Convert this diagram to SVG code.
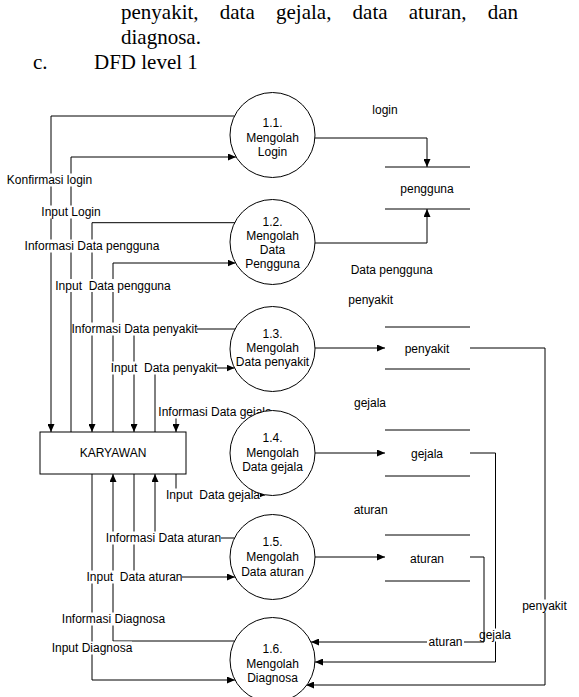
<svg xmlns="http://www.w3.org/2000/svg" width="579" height="697" viewBox="0 0 579 697">
<defs>
<marker id="ah" markerWidth="8" markerHeight="7" refX="8" refY="3.5" orient="auto" markerUnits="userSpaceOnUse">
<path d="M0,0 L8,3.5 L0,7 z" fill="#000"/>
</marker>
<style>
.doc{font-family:"Liberation Serif","Times New Roman",serif;font-size:21px;fill:#000}
.t{font-family:"Liberation Sans",Arial,sans-serif;font-size:12px;fill:#000;text-anchor:middle}
.ln{fill:none;stroke:#000;stroke-width:1}
.ar{fill:none;stroke:#000;stroke-width:1;marker-end:url(#ah)}
.bg{fill:#fff}
.proc{fill:#fff;stroke:#000;stroke-width:1}
</style>
</defs>
<rect width="579" height="697" fill="#fff"/>

<g id="intro-text">
<text class="doc" x="121" y="19">penyakit,</text>
<text class="doc" x="219.8" y="19">data</text>
<text class="doc" x="276" y="19">gejala,</text>
<text class="doc" x="352.6" y="19">data</text>
<text class="doc" x="408.8" y="19">aturan,</text>
<text class="doc" x="487.7" y="19">dan</text>
<text class="doc" x="121" y="44">diagnosa.</text>
<text class="doc" x="33" y="69">c.</text>
<text class="doc" x="94" y="69">DFD level 1</text>
</g>

<g id="connectors">
<path class="ar" d="M234.5,116 H51 V432"/>
<path class="ar" d="M71,432 V157 H236"/>
<path class="ar" d="M235,222.7 H92 V432"/>
<path class="ar" d="M113,432 V263 H235.5"/>
<path class="ar" d="M235,329 H134 V432"/>
<path class="ar" d="M155,432 V368 H234.5"/>
<path class="ar" d="M261,412 H176 V432"/>
<path class="ar" d="M176,474 V495 H265"/>
<path class="ar" d="M234.5,538 H155 V474"/>
<path class="ar" d="M134,474 V577 H235"/>
<path class="ar" d="M234.5,641 H113 V474"/>
<path class="ar" d="M92,474 V680 H235"/>
<path class="ar" d="M315,138 H427 V167"/>
<path class="ar" d="M315,243 H427 V209"/>
<path class="ar" d="M315,348 H385"/>
<path class="ar" d="M315,453 H385"/>
<path class="ar" d="M315,557 H385"/>
<path class="ar" d="M470,348 H545 V685 H306"/>
<path class="ar" d="M470,453 H495.5 V662 H315"/>
<path class="ar" d="M470,557 H484 V642 H311"/>

<rect class="bg" x="7" y="173.5" width="86" height="13"/>
<text class="t" x="49.5" y="184.3">Konfirmasi login</text>
<rect class="bg" x="42" y="205.5" width="59" height="13"/>
<text class="t" x="71" y="216.3">Input Login</text>
<rect class="bg" x="25" y="239.5" width="134" height="13"/>
<text class="t" x="92" y="250.3">Informasi Data pengguna</text>
<rect class="bg" x="57" y="279" width="112" height="13"/>
<text class="t" x="113" y="290" xml:space="preserve">Input  Data pengguna</text>
<rect class="bg" x="72" y="322.5" width="125" height="13"/>
<text class="t" x="134.5" y="333.3">Informasi Data penyakit</text>
<rect class="bg" x="111" y="361.5" width="106" height="13"/>
<text class="t" x="164" y="372.3" xml:space="preserve">Input  Data penyakit</text>
<rect class="bg" x="158" y="405.5" width="110" height="13"/>
<text class="t" x="215" y="416.3">Informasi Data gejala</text>
<rect class="bg" x="166" y="488.5" width="94" height="13"/>
<text class="t" x="213" y="499.3" xml:space="preserve">Input  Data gejala</text>
<rect class="bg" x="106" y="531.5" width="115" height="13"/>
<text class="t" x="163.5" y="542.3">Informasi Data aturan</text>
<rect class="bg" x="87" y="570.5" width="95" height="13"/>
<text class="t" x="134.5" y="581.3" xml:space="preserve">Input  Data aturan</text>
<rect class="bg" x="62" y="612.5" width="103" height="13"/>
<text class="t" x="113.5" y="623.3">Informasi Diagnosa</text>
<rect class="bg" x="52" y="641.5" width="80" height="13"/>
<text class="t" x="92" y="652.3">Input Diagnosa</text>

<text class="t" x="385" y="114.3">login</text>
<text class="t" x="391.7" y="274.3">Data pengguna</text>
<text class="t" x="370.7" y="303.6">penyakit</text>
<text class="t" x="370" y="407">gejala</text>
<text class="t" x="370.7" y="513.6">aturan</text>
<rect class="bg" x="522" y="599.5" width="45" height="13"/>
<text class="t" x="544.5" y="610.3">penyakit</text>
<rect class="bg" x="487" y="628.5" width="24" height="13"/>
<text class="t" x="495" y="639.3">gejala</text>
<rect class="bg" x="427" y="635.5" width="37" height="13"/>
<text class="t" x="445.5" y="646.3">aturan</text>
</g>

<g id="p1-1">
<circle class="proc" cx="272.5" cy="135" r="42.5"/>
<text class="t" x="272.5" y="127">1.1.</text>
<text class="t" x="272.5" y="141.5">Mengolah</text>
<text class="t" x="272.5" y="156">Login</text>
</g>
<g id="p1-2">
<circle class="proc" cx="272.5" cy="242" r="42.5"/>
<text class="t" x="272.5" y="226">1.2.</text>
<text class="t" x="272.5" y="240">Mengolah</text>
<text class="t" x="272.5" y="254">Data</text>
<text class="t" x="272.5" y="268">Pengguna</text>
</g>
<g id="p1-3">
<circle class="proc" cx="272.5" cy="349" r="42.5"/>
<text class="t" x="272.5" y="337.5">1.3.</text>
<text class="t" x="272.5" y="352">Mengolah</text>
<text class="t" x="272.5" y="366">Data penyakit</text>
</g>
<g id="p1-4">
<circle class="proc" cx="272.5" cy="453" r="42.5"/>
<text class="t" x="272.5" y="442">1.4.</text>
<text class="t" x="272.5" y="456.5">Mengolah</text>
<text class="t" x="272.5" y="471">Data gejala</text>
</g>
<g id="p1-5">
<circle class="proc" cx="272.5" cy="557" r="42.5"/>
<text class="t" x="272.5" y="546">1.5.</text>
<text class="t" x="272.5" y="561">Mengolah</text>
<text class="t" x="272.5" y="575.5">Data aturan</text>
</g>
<g id="p1-6">
<circle class="proc" cx="272.5" cy="660" r="42.5"/>
<text class="t" x="272.5" y="653">1.6.</text>
<text class="t" x="272.5" y="667.5">Mengolah</text>
<text class="t" x="272.5" y="681.5">Diagnosa</text>
</g>

<g id="karyawan">
<rect x="40" y="432" width="146" height="42" fill="#fff" stroke="#000" stroke-width="1"/>
<text class="t" x="113" y="457.3">KARYAWAN</text>
</g>

<g id="store-pengguna">
<path class="ln" d="M385,167 H470 M385,209 H470"/>
<text class="t" x="427" y="193">pengguna</text>
</g>
<g id="store-penyakit">
<path class="ln" d="M385,327 H470 M385,369 H470"/>
<text class="t" x="427" y="352.6">penyakit</text>
</g>
<g id="store-gejala">
<path class="ln" d="M385,430 H470 M385,476 H470"/>
<text class="t" x="427" y="457.6">gejala</text>
</g>
<g id="store-aturan">
<path class="ln" d="M385,535 H470 M385,581 H470"/>
<text class="t" x="427" y="562.6">aturan</text>
</g>
</svg>
